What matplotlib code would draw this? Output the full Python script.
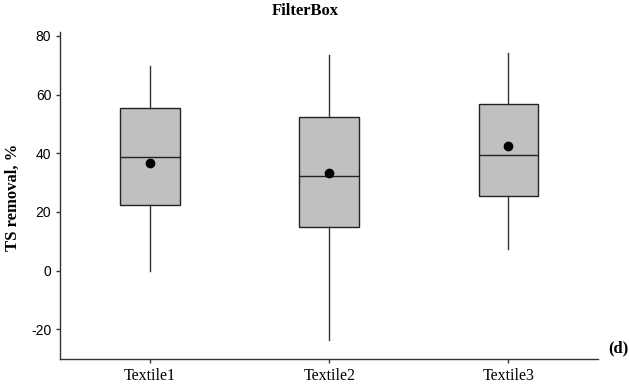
import matplotlib.pyplot as plt

# box statistics per textile (TS removal, %)
categories = ["Textile1", "Textile2", "Textile3"]
whisker_low = [-0.3, -23.7, 7.5]
q1 = [22.5, 15.0, 25.5]
median = [38.6, 32.2, 39.4]
q3 = [55.4, 52.5, 56.6]
whisker_high = [69.7, 73.5, 74.1]
mean = [36.5, 33.2, 42.3]

serif = "Liberation Serif"
sans = "Liberation Sans"
plt.rcParams["axes.unicode_minus"] = False

fig = plt.figure(figsize=(6.29, 3.89), dpi=100)
ax = fig.add_axes([0.0959, 0.078, 0.855, 0.8405])

stats = []
for i, name in enumerate(categories):
    stats.append(dict(label=name, whislo=whisker_low[i], q1=q1[i], med=median[i],
                      q3=q3[i], whishi=whisker_high[i], mean=mean[i], fliers=[]))

ax.bxp(stats, positions=[1, 2, 3], widths=0.333, patch_artist=True,
       showmeans=True, showcaps=False, showfliers=False,
       boxprops=dict(facecolor="#c0c0c0", edgecolor="#222222", linewidth=1.0),
       medianprops=dict(color="#222222", linewidth=1.0),
       whiskerprops=dict(color="#333333", linewidth=1.0),
       meanprops=dict(marker="o", markerfacecolor="black", markeredgecolor="black",
                      markersize=6))

ax.set_xlim(0.5, 3.5)
ax.set_ylim(-30, 81.4)
ax.set_yticks([-20, 0, 20, 40, 60, 80])
ax.spines["top"].set_visible(False)
ax.spines["right"].set_visible(False)
for s in ("left", "bottom"):
    ax.spines[s].set_color("#333333")
    ax.spines[s].set_linewidth(1.0)
ax.tick_params(axis="both", direction="out", length=3, color="#333333", width=1.0)
for lab in ax.get_yticklabels():
    lab.set_fontfamily(sans)
    lab.set_fontsize(10)
for lab in ax.get_xticklabels():
    lab.set_fontfamily(serif)
    lab.set_fontsize(11.5)

fig.text(305 / 629, 1 - 11 / 389, "FilterBox", family=serif, fontsize=12,
         fontweight="bold", ha="center", va="center")
fig.text(13 / 629, 1 - 197 / 389, "TS removal, %", family=serif, fontsize=12,
         fontweight="bold", rotation=90, ha="center", va="center")
fig.text(618 / 629, 1 - 348 / 389, "(d)", family=serif, fontsize=12,
         fontweight="bold", ha="center", va="center")

fig.savefig("out.png", dpi=100)
